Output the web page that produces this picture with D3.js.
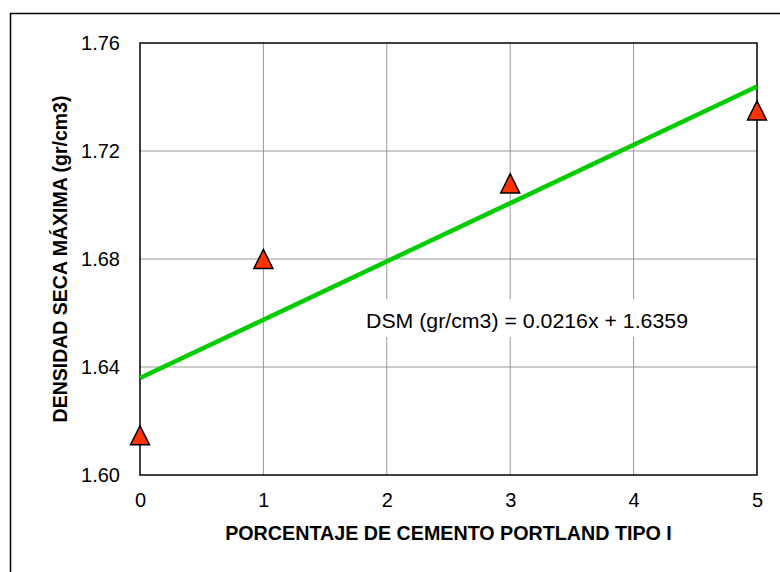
<!DOCTYPE html>
<html>
<head>
<meta charset="utf-8">
<script src="https://cdn.jsdelivr.net/npm/d3@7"></script>
<style>
    body { margin: 0; background: #fff; }
    svg { display: block; font-family: "Liberation Sans", Arial, sans-serif; }
</style>
</head>
<body>
<div id="chart"></div>
<script>
const cemento = [0, 1, 3, 5];
const densidad = [1.6147, 1.680, 1.708, 1.735];
const xTicks = [0, 1, 2, 3, 4, 5];
const yTicks = [1.60, 1.64, 1.68, 1.72, 1.76];
const trendSlope = 0.0216;
const trendIntercept = 1.6359;
const equationLabel = "DSM (gr/cm3) = 0.0216x + 1.6359";

(function () {
    const width = 780, height = 572;
    const margin = { left: 140, right: 23, top: 43, bottom: 97 };
    const svg = d3.select("#chart")
        .append("svg")
        .attr("width", width)
        .attr("height", height);

    // outer frame (only left and top visible)
    svg.append("path")
        .attr("d", `M10.5,${height} V13.5 H${width}`)
        .attr("fill", "none")
        .attr("stroke", "#000")
        .attr("stroke-width", 1.5);

    const x = d3.scaleLinear()
        .domain([0, 5])
        .range([margin.left, width - margin.right]);
    const y = d3.scaleLinear()
        .domain([1.60, 1.76])
        .range([height - margin.bottom, margin.top]);

    // grid
    svg.append("g")
        .attr("stroke", "#999")
        .attr("stroke-width", 1)
        .selectAll("line.v")
        .data(xTicks.slice(1, -1))
        .join("line")
        .attr("x1", d => x(d)).attr("x2", d => x(d))
        .attr("y1", y(1.60)).attr("y2", y(1.76));
    svg.append("g")
        .attr("stroke", "#999")
        .attr("stroke-width", 1)
        .selectAll("line.h")
        .data(yTicks.slice(1, -1))
        .join("line")
        .attr("y1", d => y(d)).attr("y2", d => y(d))
        .attr("x1", x(0)).attr("x2", x(5));

    // plot border
    svg.append("rect")
        .attr("x", x(0))
        .attr("y", y(1.76))
        .attr("width", x(5) - x(0))
        .attr("height", y(1.60) - y(1.76))
        .attr("fill", "none")
        .attr("stroke", "#000")
        .attr("stroke-width", 1.5);

    // axes
    svg.append("g")
        .attr("transform", `translate(0,${y(1.60)})`)
        .call(d3.axisBottom(x).tickValues(xTicks).tickSize(0).tickPadding(18).tickFormat(d3.format("d")))
        .call(g => g.select(".domain").remove())
        .call(g => g.selectAll("text").attr("font-size", 20).attr("fill", "#000"));
    svg.append("g")
        .attr("transform", `translate(${x(0)},0)`)
        .call(d3.axisLeft(y).tickValues(yTicks).tickSize(0).tickPadding(20).tickFormat(d3.format(".2f")))
        .call(g => g.select(".domain").remove())
        .call(g => g.selectAll("text").attr("font-size", 20).attr("fill", "#000"));

    svg.append("text")
        .text("PORCENTAJE DE CEMENTO PORTLAND TIPO I")
        .attr("x", (x(0) + x(5)) / 2)
        .attr("y", 540)
        .attr("text-anchor", "middle")
        .attr("font-weight", "bold")
        .attr("font-size", 19.7);
    const cy = (y(1.60) + y(1.76)) / 2;
    svg.append("text")
        .text("DENSIDAD SECA MÁXIMA (gr/cm3)")
        .attr("x", 67)
        .attr("y", cy)
        .attr("text-anchor", "middle")
        .attr("font-weight", "bold")
        .attr("font-size", 19.5)
        .attr("transform", `rotate(-90,67,${cy})`);

    // equation label with white box
    svg.append("rect")
        .attr("x", 360)
        .attr("y", 299)
        .attr("width", 336)
        .attr("height", 38)
        .attr("fill", "#fff");
    svg.append("text")
        .text(equationLabel)
        .attr("x", 366)
        .attr("y", 327.5)
        .attr("font-size", 20)
        .attr("textLength", 322)
        .attr("lengthAdjust", "spacingAndGlyphs");

    // trend line
    svg.append("line")
        .attr("x1", x(0))
        .attr("y1", y(trendIntercept))
        .attr("x2", x(5))
        .attr("y2", y(trendIntercept + trendSlope * 5))
        .attr("stroke", "#00cc00")
        .attr("stroke-width", 4.5);

    // markers
    const data = cemento.map((c, i) => ({ c, d: densidad[i] }));
    svg.append("g")
        .selectAll("path")
        .data(data)
        .join("path")
        .attr("d", o => {
            const cx = x(o.c), cyy = y(o.d), h = 9.5;
            return `M${cx},${cyy - h}L${cx + h},${cyy + h}L${cx - h},${cyy + h}Z`;
        })
        .attr("fill", "#ff3300")
        .attr("stroke", "#000")
        .attr("stroke-width", 1.5)
        .attr("stroke-linejoin", "miter");
})();
</script>
</body>
</html>
